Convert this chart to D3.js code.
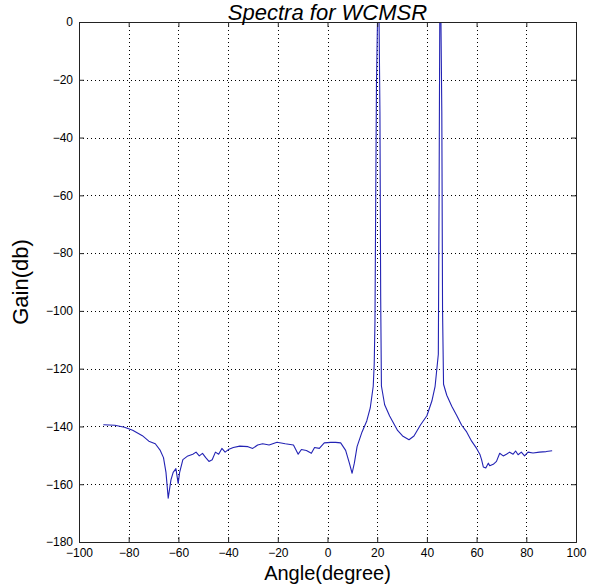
<!DOCTYPE html>
<html>
<head>
<meta charset="utf-8">
<script src="https://cdn.jsdelivr.net/npm/d3@7"></script>
<style>
html,body{margin:0;padding:0;background:#fff;}
svg{display:block;font-family:"Liberation Sans",Arial,sans-serif;}
</style>
</head>
<body>
<svg id="chart" width="590" height="584"></svg>
<script>
// Data
const angles = [
 -90.2,-85.6,-81.7,-78.4,-74.5,-71.9,-69.3,-67.3,-66.0,-65.0,-64.1,-63.0,-62.1,-61.0,-60.1,-59.5,-58.2,-56.2,-54.2,-52.9,
 -51.6,-50.3,-49.0,-47.7,-46.4,-45.1,-43.8,-42.5,-41.2,-39.9,-37.9,-35.3,-32.0,-30.1,-28.1,-26.1,-23.5,-20.3,-17.0,-13.7,
 -11.8,-10.5,-8.5,-6.5,-5.2,-3.3,-1.3,1.3,3.3,5.3,7.3,8.8,9.9,10.8,11.9,13.9,15.8,17.2,18.4,18.8,
 19.1,19.4,19.7,20.2,20.7,21.1,21.4,21.7,23.0,25.0,28.2,30.2,32.8,34.8,37.4,40.0,42.0,43.3,44.6,44.9,
 45.2,45.6,46.0,46.3,46.7,48.0,50.0,52.0,54.0,56.0,58.0,60.0,61.3,62.0,62.7,63.7,64.7,65.3,66.7,68.0,
 69.3,70.7,72.0,73.3,74.7,75.7,76.7,78.0,79.3,80.7,82.7,85.3,88.0,90.4
];
const gains = [
 -139.4,-139.6,-140.3,-141.3,-143.2,-145.1,-146.0,-148.3,-150.8,-155.9,-164.8,-158.5,-155.9,-154.6,-159.7,-155.9,-151.5,-150.2,-149.6,-148.9,
 -150.2,-149.3,-150.8,-152.1,-151.5,-148.9,-149.6,-147.6,-148.9,-148.0,-147.3,-146.8,-147.0,-147.6,-146.4,-146.0,-146.4,-145.5,-146.0,-146.4,
 -149.6,-148.0,-148.3,-149.3,-147.3,-147.6,-145.7,-145.5,-145.5,-145.7,-148.3,-152.7,-156.2,-152.7,-147.0,-141.9,-138.1,-133.6,-126.1,-118.4,
 -104.0,-62.0,-22.0,5.0,5.0,-31.0,-95.0,-126.0,-132.5,-136.4,-141.4,-143.3,-144.6,-143.3,-139.5,-136.3,-131.2,-126.1,-115.0,-60.0,
 5.0,5.0,-31.0,-100.0,-125.4,-129.2,-133.0,-136.2,-139.6,-141.9,-145.1,-147.6,-149.6,-151.5,-154.0,-154.4,-152.7,-153.6,-153.1,-152.1,
 -149.3,-150.2,-149.6,-148.9,-149.6,-148.5,-149.8,-148.9,-150.2,-148.9,-149.2,-148.9,-148.7,-148.4
];
const xTicks = [-100,-80,-60,-40,-20,0,20,40,60,80,100];
const yTicks = [0,-20,-40,-60,-80,-100,-120,-140,-160,-180];
const titleText = "Spectra for WCMSR";
const xLabel = "Angle(degree)";
const yLabel = "Gain(db)";

const svg = d3.select("#chart");
const L = 79, R = 576, T = 22, B = 542;
const x = d3.scaleLinear().domain([-100,100]).range([L,R]);
const y = d3.scaleLinear().domain([-180,0]).range([B,T]);

svg.append("rect").attr("width",590).attr("height",584).attr("fill","#fff");

// grid
const grid = svg.append("g").attr("stroke","#000").attr("stroke-width",1)
  .attr("stroke-dasharray","1,3");
xTicks.slice(1,-1).forEach(t=>{
  grid.append("line").attr("x1",Math.round(x(t))+0.5).attr("x2",Math.round(x(t))+0.5)
    .attr("y1",T).attr("y2",B);
});
yTicks.slice(1,-1).forEach(t=>{
  grid.append("line").attr("y1",Math.round(y(t))+0.5).attr("y2",Math.round(y(t))+0.5)
    .attr("x1",L).attr("x2",R);
});

// clip
svg.append("clipPath").attr("id","clip").append("rect")
  .attr("x",L).attr("y",T).attr("width",R-L).attr("height",B-T);

const data = angles.map((a,i)=>({a, g:gains[i]}));
svg.append("path").datum(data)
  .attr("clip-path","url(#clip)")
  .attr("fill","none").attr("stroke","#2323b4").attr("stroke-width",1.1)
  .attr("stroke-linejoin","round")
  .attr("d", d3.line().x(d=>x(d.a)).y(d=>y(d.g)));

// axes (ticks inside)
const tickLen = 5;
const fs = 12;
const axB = svg.append("g").attr("transform",`translate(0,${B})`)
  .call(d3.axisBottom(x).tickValues(xTicks).tickSize(-tickLen).tickPadding(6).tickFormat(d3.format("d")));
const axT = svg.append("g").attr("transform",`translate(0,${T})`)
  .call(d3.axisTop(x).tickValues(xTicks).tickSize(-tickLen).tickFormat(""));
const axL = svg.append("g").attr("transform",`translate(${L},0)`)
  .call(d3.axisLeft(y).tickValues(yTicks).tickSize(-tickLen).tickPadding(6).tickFormat(d3.format("d")));
const axR = svg.append("g").attr("transform",`translate(${R},0)`)
  .call(d3.axisRight(y).tickValues(yTicks).tickSize(-tickLen).tickFormat(""));
[axB,axT,axL,axR].forEach(g=>{
  g.select(".domain").attr("stroke","#222").attr("stroke-width",1);
  g.selectAll(".tick line").attr("stroke","#222");
  g.selectAll("text").attr("font-family","'Liberation Sans',Arial,sans-serif")
    .attr("font-size",fs).attr("fill","#000");
});

// title and labels
svg.append("text").attr("x",(L+R)/2).attr("y",20).attr("text-anchor","middle")
  .attr("font-size",22).attr("font-style","italic").attr("fill","#000").text(titleText);
svg.append("text").attr("x",(L+R)/2).attr("y",579.5).attr("text-anchor","middle")
  .attr("font-size",20).attr("fill","#000").text(xLabel);
svg.append("text").attr("transform",`translate(28,${(T+B)/2}) rotate(-90)`)
  .attr("text-anchor","middle").attr("font-size",22).attr("fill","#000").text(yLabel);
</script>
</body>
</html>
